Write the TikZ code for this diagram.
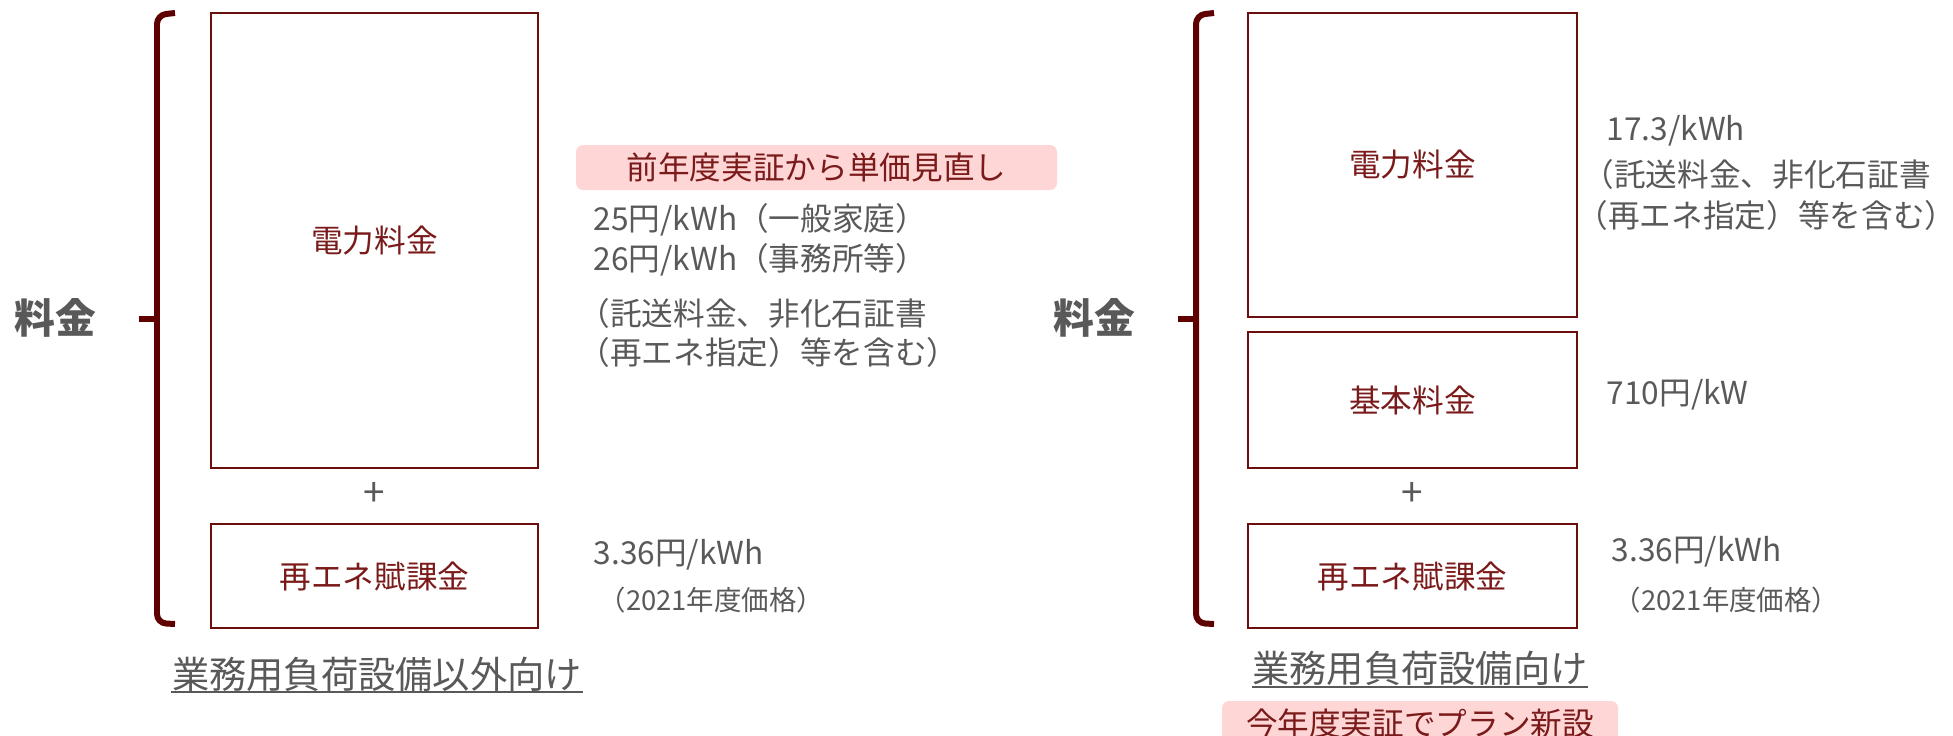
\documentclass[tikz,border=0pt]{standalone}
\usepackage{fontspec}
\setmainfont{Noto Sans CJK JP}
\usetikzlibrary{calc}
\definecolor{txtgray}{HTML}{595959}
\definecolor{dred}{HTML}{5E0000}
\definecolor{boxred}{HTML}{6A0E0E}
\definecolor{lblred}{HTML}{7A1A1A}
\definecolor{pinkfill}{HTML}{FFD6D6}
\begin{document}
\begin{tikzpicture}[x=0.1mm,y=-0.1mm,
  box/.style={draw=boxred,line width=0.65pt,inner sep=0pt,text=lblred,
    font=\fontsize{9}{11}\selectfont},
  graytext/.style={inner sep=0pt,anchor=west,text=txtgray,
    font=\fontsize{9}{11}\selectfont},
  smalltext/.style={inner sep=0pt,anchor=west,text=txtgray,
    font=\fontsize{7.8}{9}\selectfont},
  plussign/.style={inner sep=0pt,text=txtgray,font=\fontsize{11}{12}\selectfont},
  bigtitle/.style={inner sep=0pt,text=txtgray,font=\bfseries\fontsize{11.6}{13}\selectfont},
  undertitle/.style={inner sep=0pt,text=txtgray,font=\fontsize{10.6}{12}\selectfont},
  uline/.style={draw=txtgray,line width=0.5pt},
  pinkbox/.style={fill=pinkfill,rounded corners=0.7mm,inner sep=0pt,text=lblred,
    font=\fontsize{9}{11}\selectfont},
  bracestyle/.style={draw=dred,line width=1.7pt,rounded corners=0.9mm},
  tipstyle/.style={draw=dred,line width=1.7pt}
]
\useasboundingbox (0,0) rectangle (1953,735);
\clip (0,0) rectangle (1953,735);

% ---------- left ----------
\draw[bracestyle] (175,13) -- (157,15) -- (157,623) -- (175,624);
\draw[tipstyle] (139,319) -- (157,319);
\node[bigtitle] (lfee) at (55,318) {料金};

\node[box,minimum width=32.7mm,minimum height=45.5mm] (lpow) at (374.5,240.5) {電力料金};
\node[plussign] (lplus) at (374.5,494) {+};
\node[box,minimum width=32.7mm,minimum height=10.4mm] (lre) at (374.5,576) {再エネ賦課金};

\node[pinkbox,minimum width=48.1mm,minimum height=4.5mm] (lnote) at (816.5,167.5) {前年度実証から単価見直し};
\node[graytext] (l1) at (593,220) {25円/kWh（一般家庭）};
\node[graytext] (l2) at (593,260) {26円/kWh（事務所等）};
\node[graytext] (l3) at (578,313) {（託送料金、非化石証書};
\node[graytext] (l4) at (578,352) {（再エネ指定）等を含む）};
\node[graytext] (l5) at (593,555) {3.36円/kWh};
\node[smalltext] (l6) at (598,600) {（2021年度価格）};

\node[undertitle] (ltitle) at (377,674) {業務用負荷設備以外向け};
\draw[uline] ($(ltitle.west)+(0,18)$) -- ($(ltitle.east)+(0,18)$);

% ---------- right ----------
\draw[bracestyle] (1214,13) -- (1196,15) -- (1196,623) -- (1214,624);
\draw[tipstyle] (1178,319) -- (1196,319);
\node[bigtitle] (rfee) at (1094,318) {料金};

\node[box,minimum width=32.9mm,minimum height=30.4mm] (rpow) at (1412.5,165) {電力料金};
\node[box,minimum width=32.9mm,minimum height=13.6mm] (rbase) at (1412.5,400) {基本料金};
\node[plussign] (rplus) at (1412.5,494) {+};
\node[box,minimum width=32.9mm,minimum height=10.4mm] (rre) at (1412.5,576) {再エネ賦課金};

\node[graytext] (r1) at (1606,131) {17.3/kWh};
\node[graytext] (r2) at (1582,174) {（託送料金、非化石証書};
\node[graytext] (r3) at (1576,215) {（再エネ指定）等を含む）\kern-0.45em};
\node[graytext] (r4) at (1606,395) {710円/kW};
\node[graytext] (r5) at (1611,552) {3.36円/kWh};
\node[smalltext] (r6) at (1613,600) {（2021年度価格）};

\node[undertitle] (rtitle) at (1420,668) {業務用負荷設備向け};
\draw[uline] ($(rtitle.west)+(0,19)$) -- ($(rtitle.east)+(0,19)$);
\node[pinkbox,minimum width=39.6mm,minimum height=4.5mm] (rnote) at (1420,723.5) {今年度実証でプラン新設};
\end{tikzpicture}
\end{document}
